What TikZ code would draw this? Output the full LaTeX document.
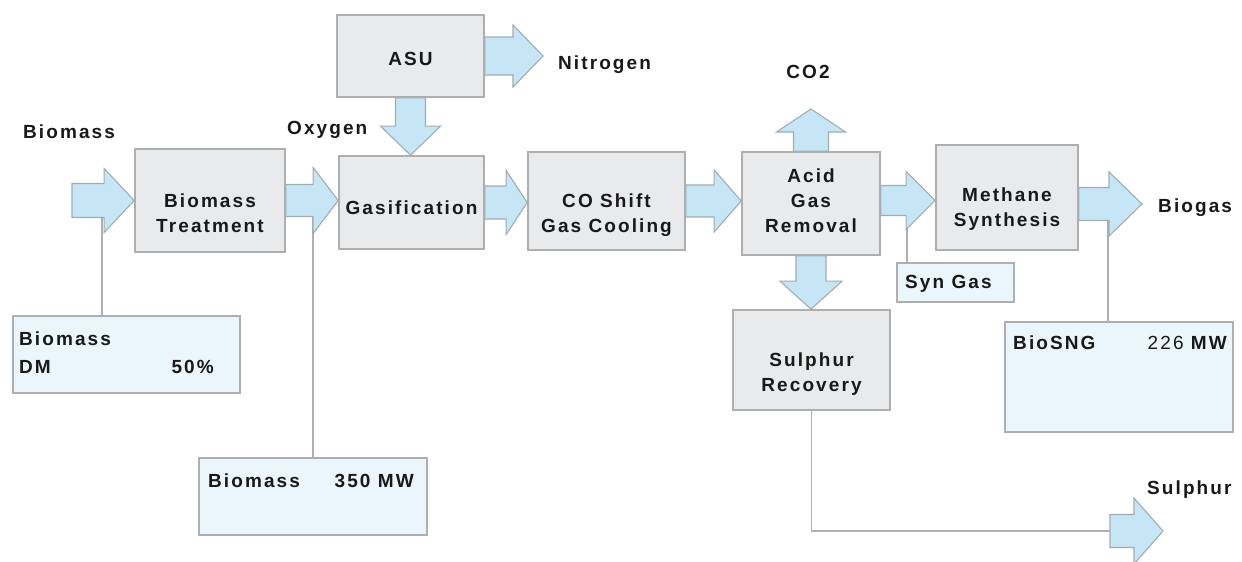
\documentclass[tikz,border=0pt]{standalone}
\usepackage{fontspec}
\setmainfont{Liberation Sans}[LetterSpace=11]
\usetikzlibrary{calc}
\definecolor{boxfill}{RGB}{233,234,236}
\definecolor{boxdraw}{RGB}{175,175,175}
\definecolor{infofill}{RGB}{234,245,252}
\definecolor{arrfill}{RGB}{198,230,246}
\definecolor{arrdraw}{RGB}{160,172,180}
\definecolor{conncol}{RGB}{175,175,175}
\definecolor{txt}{RGB}{25,25,25}
\newcommand\fatR[5]{\path[fat] let \p1=(#1), \p2=(#2) in (\x1,\y1+#3) -- (\x2-#5,\y1+#3) -- (\x2-#5,\y1+#4) -- (\x2,\y1) -- (\x2-#5,\y1-#4) -- (\x2-#5,\y1-#3) -- (\x1,\y1-#3) -- cycle;}
\newcommand\fatD[5]{\path[fat] let \p1=(#1), \p2=(#2) in (\x1-#3,\y1) -- (\x1-#3,\y2+#5) -- (\x1-#4,\y2+#5) -- (\x1,\y2) -- (\x1+#4,\y2+#5) -- (\x1+#3,\y2+#5) -- (\x1+#3,\y1) -- cycle;}
\newcommand\fatU[5]{\path[fat] let \p1=(#1), \p2=(#2) in (\x1-#3,\y1) -- (\x1-#3,\y2-#5) -- (\x1-#4,\y2-#5) -- (\x1,\y2) -- (\x1+#4,\y2-#5) -- (\x1+#3,\y2-#5) -- (\x1+#3,\y1) -- cycle;}
\tikzset{
  lbl/.style={font=\bfseries\fontsize{19}{25}\selectfont, text=txt, inner sep=0pt},
  proc/.style args={#1x#2}{draw=boxdraw, line width=1.7pt, fill=boxfill, minimum width=#1pt, minimum height=#2pt, inner sep=0pt},
  info/.style args={#1x#2}{draw=boxdraw, line width=1.7pt, fill=infofill, minimum width=#1pt, minimum height=#2pt, inner sep=0pt},
  fat/.style={draw=arrdraw, line width=1.1pt, fill=arrfill, line join=miter},
  conn/.style={draw=conncol, line width=1.8pt},
}
\begin{document}
\begin{tikzpicture}[x=1pt,y=-1pt]
\useasboundingbox[fill=white] (0,0) rectangle (1242,562);
% process boxes
\node[proc=150x103] (bt) at (210,200.5) {};
\node[proc=147x82] (asu) at (410.5,56) {};
\node[proc=145x93] (gas) at (411.5,202.5) {};
\node[proc=157x98] (co) at (606.5,201) {};
\node[proc=138x103] (agr) at (811,203.5) {};
\node[proc=142x105] (ms) at (1007,197.5) {};
\node[proc=157x100] (srec) at (811.5,360) {};
% info boxes
\node[info=227x77] (dm) at (126.5,354.5) {};
\node[info=228x77] (b350) at (313,496.5) {};
\node[info=117x39] (sg) at (955.5,282.5) {};
\node[info=228x110] (bsng) at (1119,377) {};
% box texts
\node[lbl, align=center] (tbt) at ($(bt.center)+(0,12.5)$) {Biomass\\Treatment};
\node[lbl] (tasu) at ($(asu.center)+(0,3)$) {ASU};
\node[lbl] (tgas) at ($(gas.center)+(0,5.5)$) {Gasification};
\node[lbl, align=center] (tco) at ($(co.center)+(0,14)$) {CO Shift\\Gas Cooling};
\node[lbl, align=center] (tagr) at ($(agr.center)+(0,-3)$) {Acid\\Gas\\Removal};
\node[lbl, align=center] (tms) at ($(ms.center)+(0,11.5)$) {Methane\\Synthesis};
\node[lbl, align=center] (tsrec) at ($(srec.center)+(0,14)$) {Sulphur\\Recovery};
% info texts
\node[lbl, anchor=west] (dm1) at (19,339) {Biomass};
\node[lbl, anchor=west] (dm2) at (19,367) {DM};
\node[lbl, anchor=east] (dm3) at (214,367) {50\%};
\node[lbl, anchor=west] (b1) at (208,481) {Biomass};
\node[lbl, anchor=east] (b2) at (414,481) {350 MW};
\node[lbl, anchor=west] (sg1) at (905,284) {Syn Gas};
\node[lbl, anchor=west] (bs1) at (1013,343) {BioSNG};
\node[lbl, anchor=east] (bs2) at (1227,343) {{\mdseries 226} MW};
% free labels
\node[lbl, anchor=west] (lbio) at (23,132) {Biomass};
\node[lbl, anchor=west] (loxy) at (287,130) {Oxygen};
\node[lbl, anchor=west] (lnit) at (558,65) {Nitrogen};
\node[lbl] (lco2) at (808,72) {CO2};
\node[lbl, anchor=west] (lbiogas) at (1158,208) {Biogas};
\node[lbl, anchor=west] (lsul) at (1147,490) {Sulphur};
% coordinates
\coordinate (bin) at (72,200.5);
\coordinate (bdm) at (102,200.5);
\coordinate (b35) at (313,200.5);
\coordinate (syn) at (907,200);
\coordinate (bgs) at (1108,204);
\coordinate (bgtip) at (1142,204);
\coordinate (ntip) at (543,56);
\coordinate (co2tip) at (811,109);
\coordinate (sin) at (1110,531);
\coordinate (stip) at (1163,531);
% thin connectors
\draw[conn] (bdm) -- (bdm |- dm.north);
\draw[conn] (b35) -- (b350.north);
\draw[conn] (syn) -- (syn |- sg.north);
\draw[conn] (bgs) -- (bgs |- bsng.north);
\draw[conn] (srec.south) |- (sin);
% fat arrows
\fatR{bin}{bt.west}{17pt}{32pt}{30pt}
\fatR{bt.east}{gas.west}{16pt}{33pt}{25pt}
\fatR{gas.east}{co.west}{16.5pt}{32pt}{21pt}
\fatR{co.east}{agr.west}{16pt}{31pt}{27pt}
\fatR{$(agr.east)+(0,-3)$}{ms.west}{15pt}{29pt}{29pt}
\fatR{$(ms.east)+(0,6.5)$}{bgtip}{16.5pt}{32pt}{33pt}
\fatR{asu.east}{ntip}{19pt}{31pt}{30pt}
\fatR{sin}{stip}{16.5pt}{33pt}{29pt}
\fatD{asu.south}{gas.north}{15pt}{30pt}{29pt}
\fatD{agr.south}{srec.north}{15pt}{31pt}{28pt}
\fatU{agr.north}{co2tip}{17.5pt}{34.5pt}{23pt}
\end{tikzpicture}
\end{document}
